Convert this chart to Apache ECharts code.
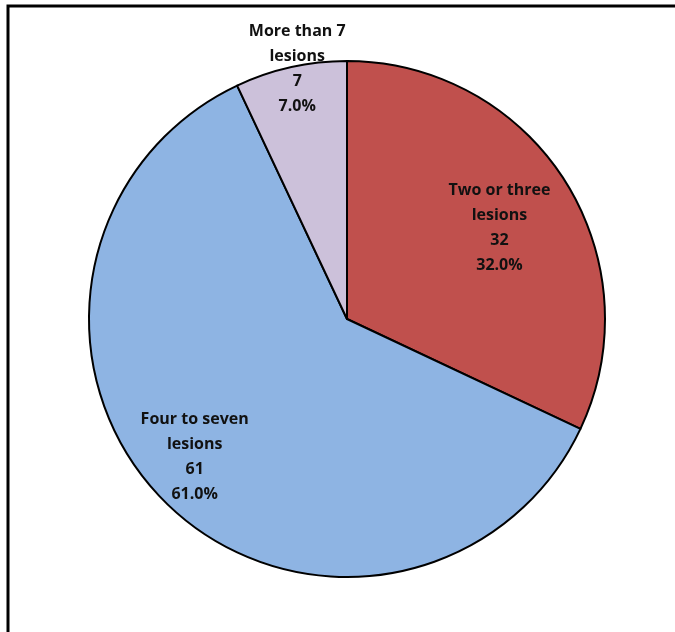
<!DOCTYPE html>
<html>
<head>
<meta charset="utf-8">
<script src="https://cdn.jsdelivr.net/npm/echarts@6/dist/echarts.min.js"></script>
<style>html,body{margin:0;padding:0;background:#fff;}#c{width:675px;height:632px;}</style>
</head>
<body>
<div id="c"></div>
<script>
const categories = ["Two or three\nlesions", "Four to seven\nlesions", "More than 7\nlesions"];
const values = [32, 61, 7];
const colors = ["#C0504D", "#8EB4E3", "#CCC1DA"];
const labelOffsets = [[41, -20], [-59, 45], [-21, -121]];

const chart = echarts.init(document.getElementById('c'), null, {renderer: 'canvas'});
chart.setOption({
  animation: false,
  backgroundColor: '#ffffff',
  graphic: [{
    type: 'rect',
    shape: {x: 8, y: 6, width: 900, height: 900},
    style: {fill: 'none', stroke: '#000', lineWidth: 3},
    silent: true
  }],
  series: [{
    type: 'pie',
    center: [347, 319],
    radius: [0, 258],
    startAngle: 90,
    clockwise: true,
    data: categories.map((c, i) => ({name: c, value: values[i], itemStyle: {color: colors[i]}})),
    itemStyle: {borderColor: '#000', borderWidth: 2},
    label: {
      show: true,
      position: 'inside',
      color: '#111',
      fontFamily: 'Open Sans',
      fontWeight: 'bold',
      fontSize: 16,
      lineHeight: 25,
      align: 'center',
      formatter: p => p.name + '\n' + p.value + '\n' + p.percent.toFixed(1) + '%'
    },
    labelLayout: p => ({dx: labelOffsets[p.dataIndex][0], dy: labelOffsets[p.dataIndex][1]}),
    labelLine: {show: false},
    emphasis: {disabled: true}
  }]
});
</script>
</body>
</html>
